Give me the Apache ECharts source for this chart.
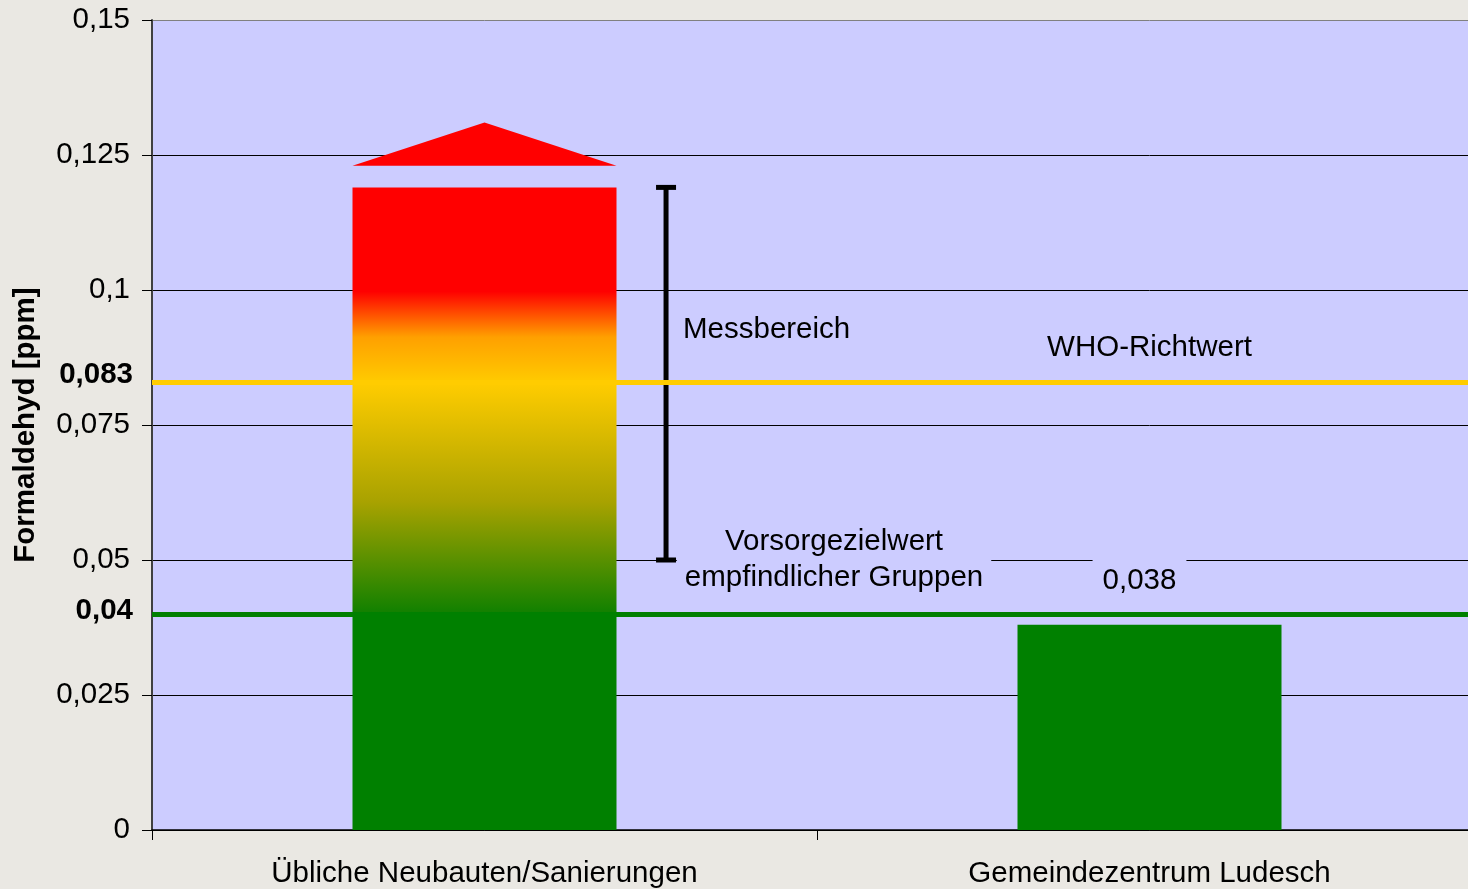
<!DOCTYPE html>
<html>
<head>
    <meta charset="utf-8">
    <title>Formaldehyd</title>
    <script src="https://cdn.jsdelivr.net/npm/echarts@6/dist/echarts.min.js"></script>
    <style>
        html, body { margin: 0; padding: 0; background: #EAE8E3; overflow: hidden; }
        /* Zeichenfläche etwas breiter als das Fenster: rechter Rand des Diagramms liegt außerhalb */
        #chart { width: 1482px; height: 889px; }
    </style>
</head>
<body>
<div id="chart"></div>
<script>
    // Daten
    var categories = ['Übliche Neubauten/Sanierungen', 'Gemeindezentrum Ludesch'];
    var values = [0.119, 0.038];
    var valueLabels = ['', '0,038'];
    var yTicks = [0, 0.025, 0.05, 0.075, 0.1, 0.125, 0.15];
    var yTickLabels = ['0', '0,025', '0,05', '0,075', '0,1', '0,125', '0,15'];

    // Grenzwerte
    var limitValues = [0.083, 0.04];
    var limitLabels = ['0,083', '0,04'];

    // Messbereich (von - bis) und Pfeil über dem ersten Balken
    var messRange = [0.05, 0.119];
    var arrowRange = [0.123, 0.131];

    // Beschriftungen
    var noteTexts = ['Messbereich', 'WHO-Richtwert', 'Vorsorgezielwert\nempfindlicher Gruppen'];
    var noteCategory = [0, 1, 0];
    var noteValues = [0.0926, 0.0892, 0.05];

    var font = 'Liberation Sans, Arial, sans-serif';
    var fs = 29.5;
    var barFrac = 0.397;
    // Lage der Beschriftungen relativ zur Kategorienmitte (Anteil der Bandbreite)
    var noteLayout = [
        {dx: 0.2985, align: 'left', bg: null},
        {dx: 0, align: 'center', bg: null},
        {dx: 0.5256, align: 'center', bg: '#CCCCFF'}
    ];

    var gradient = new echarts.graphic.LinearGradient(0, 0, 0, 1, [
        {offset: 0, color: '#FF0000'},
        {offset: 0.162, color: '#FF0000'},
        {offset: 0.233, color: '#FFA000'},
        {offset: 0.305, color: '#FFCC00'},
        {offset: 0.49, color: '#A8A200'},
        {offset: 0.663, color: '#108000'},
        {offset: 0.664, color: '#008000'},
        {offset: 1, color: '#008000'}
    ]);

    var myChart = echarts.init(document.getElementById('chart'));

    myChart.setOption({
        animation: false,
        backgroundColor: '#EAE8E3',
        textStyle: {fontFamily: font},
        grid: {
            left: 152, right: 0, top: 20, bottom: 59,
            show: true, backgroundColor: '#CCCCFF', borderWidth: 0
        },
        xAxis: {
            type: 'category',
            data: categories,
            axisLine: {lineStyle: {color: '#000', width: 1.5}},
            axisTick: {show: true, length: 10, lineStyle: {color: '#000'}},
            axisLabel: {color: '#000', fontSize: fs, margin: 29, fontFamily: font}
        },
        yAxis: {
            type: 'value',
            min: 0, max: 0.15, interval: 0.025,
            name: 'Formaldehyd [ppm]',
            nameLocation: 'middle',
            nameRotate: 90,
            nameGap: 111,
            nameTextStyle: {color: '#000', fontSize: fs, fontWeight: 'bold', fontFamily: font},
            axisLine: {show: true, lineStyle: {color: '#404040', width: 2}},
            axisTick: {show: true, length: 10, lineStyle: {color: '#000'}},
            axisLabel: {
                color: '#000', fontSize: fs, margin: 22, fontFamily: font,
                formatter: function (v) {
                    var i = yTicks.findIndex(function (t) { return Math.abs(t - v) < 1e-9; });
                    return i >= 0 ? yTickLabels[i] : '';
                }
            },
            splitLine: {
                show: true,
                lineStyle: {color: ['#000', '#000', '#000', '#000', '#000', '#000', '#808080'], width: 1}
            }
        },
        series: [
            {
                type: 'bar',
                z: 3,
                barWidth: (barFrac * 100) + '%',
                data: values.map(function (v, i) {
                    return {
                        value: v,
                        itemStyle: {color: i === 0 ? gradient : '#008000'},
                        label: {
                            show: valueLabels[i] !== '',
                            position: 'top',
                            distance: 23,
                            offset: [-10, 0],
                            formatter: valueLabels[i],
                            color: '#000',
                            fontSize: fs,
                            lineHeight: 34,
                            fontFamily: font,
                            backgroundColor: '#CCCCFF',
                            padding: [8, 10, 4, 10]
                        }
                    };
                }),
                markLine: {
                    silent: true,
                    symbol: 'none',
                    precision: 3,
                    data: limitValues.map(function (v, i) {
                        return {
                            yAxis: v,
                            lineStyle: {color: i === 0 ? '#FFCC00' : '#008000', width: 5, type: 'solid'},
                            label: {
                                show: true,
                                position: 'start',
                                distance: 19,
                                formatter: '{b|' + limitLabels[i] + '}',
                                rich: {
                                    b: {
                                        color: '#000',
                                        fontSize: fs,
                                        fontWeight: 'bold',
                                        fontFamily: font,
                                        padding: [0, 0, i === 0 ? 14 : 6, 0]
                                    }
                                }
                            }
                        };
                    })
                }
            },
            {
                // Pfeil über dem ersten Balken
                type: 'custom',
                z: 4,
                silent: true,
                data: [[0, arrowRange[0], arrowRange[1]]],
                renderItem: function (params, api) {
                    var band = api.size([1, 0])[0];
                    var base = api.coord([api.value(0), api.value(1)]);
                    var tip = api.coord([api.value(0), api.value(2)]);
                    var hw = band * barFrac / 2;
                    return {
                        type: 'polygon',
                        shape: {points: [[base[0] - hw, base[1]], [base[0] + hw, base[1]], [tip[0], tip[1]]]},
                        style: {fill: '#FF0000'}
                    };
                }
            },
            {
                // Messbereich
                type: 'custom',
                z: 4,
                silent: true,
                data: [[0, messRange[0], messRange[1]]],
                renderItem: function (params, api) {
                    var band = api.size([1, 0])[0];
                    var lo = api.coord([api.value(0), api.value(1)]);
                    var hi = api.coord([api.value(0), api.value(2)]);
                    var x = lo[0] + band * 0.273;
                    var style = {stroke: '#000', lineWidth: 5};
                    return {
                        type: 'group',
                        children: [
                            {type: 'line', shape: {x1: x, y1: lo[1], x2: x, y2: hi[1]}, style: style},
                            {type: 'line', shape: {x1: x - 10, y1: lo[1], x2: x + 10, y2: lo[1]}, style: style},
                            {type: 'line', shape: {x1: x - 10, y1: hi[1], x2: x + 10, y2: hi[1]}, style: style}
                        ]
                    };
                }
            },
            {
                // Beschriftungen
                type: 'custom',
                z: 5,
                silent: true,
                data: noteTexts.map(function (t, i) { return [noteCategory[i], noteValues[i], i]; }),
                renderItem: function (params, api) {
                    var band = api.size([1, 0])[0];
                    var idx = api.value(2);
                    var lay = noteLayout[idx];
                    var p = api.coord([api.value(0), api.value(1)]);
                    var style = {
                        text: noteTexts[idx],
                        x: p[0] + band * lay.dx,
                        y: p[1],
                        align: lay.align,
                        verticalAlign: 'middle',
                        fill: '#000',
                        fontSize: fs,
                        lineHeight: 36,
                        fontFamily: font
                    };
                    if (lay.bg) {
                        style.backgroundColor = lay.bg;
                        style.padding = [2, 8];
                    }
                    return {type: 'text', style: style};
                }
            }
        ]
    });
</script>
</body>
</html>
